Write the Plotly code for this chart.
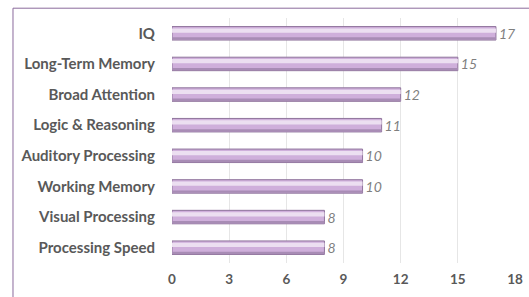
import plotly.graph_objects as go

categories = ["IQ", "Long-Term Memory", "Broad Attention", "Logic & Reasoning",
              "Auditory Processing", "Working Memory", "Visual Processing", "Processing Speed"]
values = [17, 15, 12, 11, 10, 10, 8, 8]
x_ticks = [0, 3, 6, 9, 12, 15, 18]

fig = go.Figure()
# main bar body
fig.add_trace(go.Bar(
    y=categories, x=values, orientation="h", width=0.44,
    marker=dict(color="#cfafdb", line=dict(color="#8f749c", width=1)),
    text=[str(v) for v in values], textposition="outside", constraintext="none",
    textfont=dict(family="Lato", size=14, color="#7f7f7f", style="italic"),
    cliponaxis=False, showlegend=False, hoverinfo="skip",
))
# lower shade
fig.add_trace(go.Bar(
    y=categories, x=values, orientation="h", width=0.08, offset=-0.21,
    marker=dict(color="#a88cb5", line=dict(width=0)),
    showlegend=False, hoverinfo="skip",
))
# highlight stripe
fig.add_trace(go.Bar(
    y=categories, x=values, orientation="h", width=0.14, offset=0.02,
    marker=dict(color="#ecdff1", line=dict(width=0)),
    showlegend=False, hoverinfo="skip",
))

fig.update_layout(
    width=529, height=297,
    margin=dict(l=172, r=14, t=18, b=34, autoexpand=False),
    barmode="overlay",
    paper_bgcolor="#ffffff", plot_bgcolor="#ffffff",
    font=dict(family="Lato", color="#595959"),
    xaxis=dict(range=[0, 18], tickvals=x_ticks, showgrid=True, gridcolor="#e6e6e6",
               gridwidth=1, zeroline=False, showline=False, automargin=False,
               tickfont=dict(family="Lato", size=13.5, color="#595959", weight="bold"),
               ticklabelstandoff=6),
    yaxis=dict(categoryorder="array", categoryarray=categories[::-1],
               showgrid=False, zeroline=False, showline=False, automargin=False,
               tickfont=dict(family="Lato", size=15, color="#595959", weight="bold"),
               ticklabelstandoff=16),
    shapes=[dict(type="rect", xref="paper", yref="paper",
                 x0=-0.4636, x1=1.2, y0=-0.3, y1=1.04,
                 line=dict(color="#8a6a9c", width=1), fillcolor="rgba(0,0,0,0)",
                 layer="below")],
)
fig.write_html("out.html", config={"displayModeBar": False},
               post_script="document.body.style.margin='0';document.body.style.overflow='hidden';")
